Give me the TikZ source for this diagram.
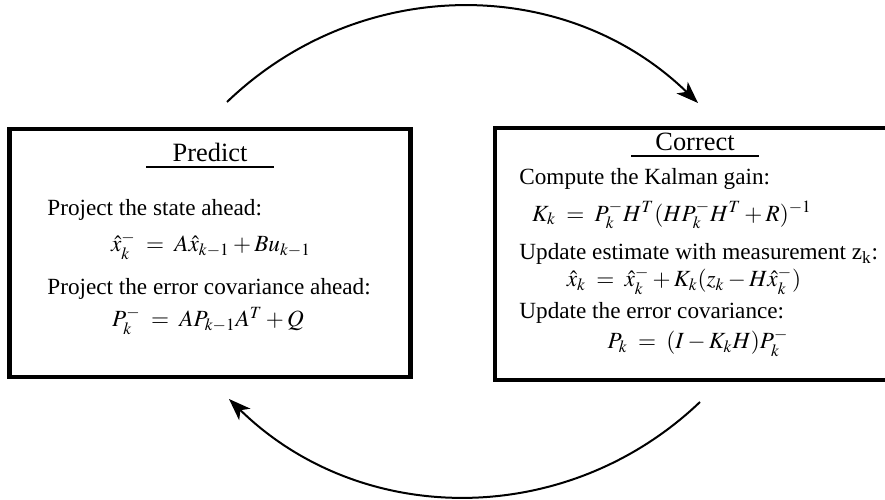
\documentclass[tikz,border=0pt]{standalone}
\usepackage{mathptmx}
\usepackage{fontspec}
\setmainfont{Liberation Serif}
\usetikzlibrary{arrows.meta,calc}
\def\BodySize{11.6}
\def\HeadSize{13.2}
\def\BendAngle{44}
\def\RuleHalf{64}

\begin{document}
\begin{tikzpicture}[x=0.5pt,y=0.5pt,
    frame/.style={draw,line width=2.2pt,inner sep=0pt},
    line/.style={font=\fontsize{\BodySize}{14}\selectfont,inner sep=0pt},
    head/.style={font=\fontsize{\HeadSize}{16}\selectfont,inner sep=0pt},
    cycle/.style={line width=1pt,-{Stealth[length=11pt,width=8pt,inset=3pt]}}]
    \path[use as bounding box] (0,0) rectangle (885,499);
    % the two stages
    \node[frame,minimum width=200.5pt,minimum height=124pt] (predict) at (210,246) {};
    \node[frame,minimum width=197pt,minimum height=126pt] (correct) at (692,245) {};
    % predict
    \node[head] (predictHead) at (210,347) {Predict};
    \draw[line width=0.6pt] ($(predictHead)+(-\RuleHalf,-15)$) -- ($(predictHead)+(\RuleHalf,-15)$);
    \node[line,anchor=west] (stateText) at (47,289) {Project the state ahead:};
    \node[line] (stateEq) at (211,253) {$\hat{x}^{-}_{k} \;=\; A\hat{x}_{k-1}+Bu_{k-1}$};
    \node[line,anchor=west] (covText) at (47,210) {Project the error covariance ahead:};
    \node[line] (covEq) at (208,178) {$P^{-}_{k} \;=\; AP_{k-1}A^{T}+Q$};
    % correct
    \node[head] (correctHead) at (695,357) {Correct};
    \draw[line width=0.6pt] ($(correctHead)+(-\RuleHalf,-14)$) -- ($(correctHead)+(\RuleHalf,-14)$);
    \node[line,anchor=west] (gainText) at (519,320) {Compute the Kalman gain:};
    \node[line] (gainEq) at (672,284) {$K_{k} \;=\; P^{-}_{k}H^{T}(HP^{-}_{k}H^{T}+R)^{-1}$};
    \node[line,anchor=west] (estText) at (519,245) {Update estimate with measurement z\textsubscript{k}:};
    \node[line] (estEq) at (684,218) {$\hat{x}_{k} \;=\; \hat{x}^{-}_{k}+K_{k}(z_{k}-H\hat{x}^{-}_{k})$};
    \node[line,anchor=west] (errText) at (519,186) {Update the error covariance:};
    \node[line] (errEq) at (698,156) {$P_{k} \;=\; (I-K_{k}H)P^{-}_{k}$};
    % the loop
    \coordinate (topStart) at (227,397);
    \coordinate (topEnd) at (698,396);
    \coordinate (lowStart) at (700,97);
    \coordinate (lowEnd) at (229,100);
    \draw[cycle] (topStart) to[bend left=\BendAngle] (topEnd);
    \draw[cycle] (lowStart) to[bend left=\BendAngle] (lowEnd);
\end{tikzpicture}
\end{document}
